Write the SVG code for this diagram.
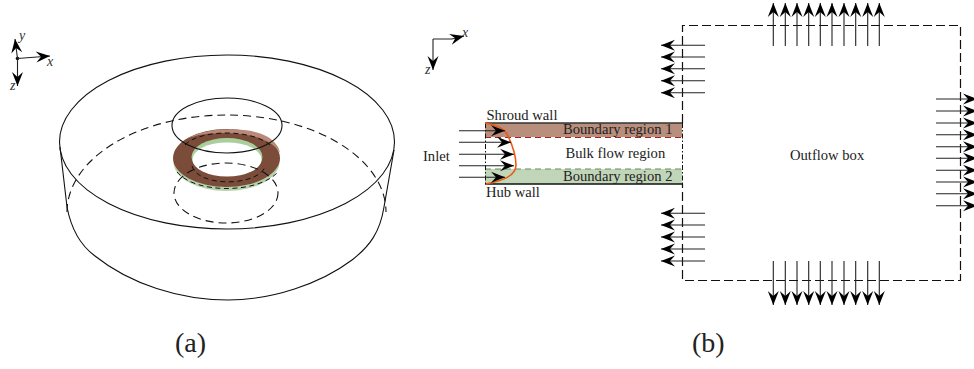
<svg xmlns="http://www.w3.org/2000/svg" width="974" height="369" viewBox="0 0 974 369">
<style>
text{font-family:"Liberation Serif","Times New Roman",serif;fill:#222;font-size:14.6px}
text.ax{font-style:italic;font-size:14px;fill:#333}
text.cap{font-size:28px}
.s{fill:none;stroke:#111;stroke-width:1.100}
.d{fill:none;stroke:#111;stroke-width:1.100;stroke-dasharray:8 5}
.b{fill:none;stroke:#111;stroke-width:1.200;stroke-dasharray:9 4}
.r{fill:none;stroke:#111;stroke-width:1;stroke-dasharray:5 3.500}
.a{fill:none;stroke:#222;stroke-width:1.100;marker-end:url(#h)}
</style>
<defs>
<marker id="h" markerUnits="userSpaceOnUse" markerWidth="16" markerHeight="12" refX="14" refY="5.500" orient="auto" overflow="visible"><path d="M14,5.500 L0,0 L5,5.500 L0,11z" fill="#000"/></marker>
</defs>
<g id="cylinder">
<ellipse class="s" cx="227" cy="142" rx="167.500" ry="87"/>
<path class="s" d="M60,147 L67,207 C71,228 80,245 95,256 C130,284 180,300 228,300 C272,300 320,284 352,260 C370,246 380,232 384,207 L394,150"/>
<path class="d" d="M67,212 A159.500,97 0 0 1 386,212"/>
</g>
<g id="ring">
<ellipse cx="226.500" cy="162" rx="53" ry="29" fill="#b5d2ab"/>
<ellipse cx="226.500" cy="158" rx="53.500" ry="29" fill="#7a4c39"/>
<path d="M187,139 C205,127 250,126 268,137 C274,141 279,146 280,153 C272,138 245,133 226,133 C208,133 195,135 187,139z" fill="#b98a78"/>
<ellipse cx="227" cy="157" rx="35.500" ry="19" fill="#a9d09c"/>
<ellipse cx="227" cy="159.500" rx="34.500" ry="17" fill="#fff"/>
<path class="r" d="M185,145 C200,129 252,129 270,145"/>
<path class="r" d="M192,166 C198,187 256,187 265,167"/>
<path class="r" d="M177,172 C195,194 258,194 278,172"/>
</g>
<g id="hub-circles">
<ellipse class="s" cx="227" cy="125.500" rx="55" ry="27.500"/>
<ellipse class="d" cx="226" cy="193" rx="52" ry="30"/>
</g>
<g id="axes-a">
<text class="ax" x="19" y="40">y</text><text class="ax" x="47" y="66">x</text><text class="ax" x="10" y="90">z</text>
<circle cx="17.500" cy="58.500" r="1.800" fill="#111"/>
</g>
<g id="axes-b">
<text class="ax" x="462" y="37">x</text><text class="ax" x="425" y="74">z</text>
</g>
<g id="channel">
<rect x="485" y="123" width="197" height="14" fill="#b88e7d"/>
<rect x="485" y="169" width="197" height="15" fill="#c1d5b9"/>
<path d="M485,123H682" stroke="#333" stroke-width="1.500"/>
<path d="M485,184H682" stroke="#111" stroke-width="1.500"/>
<path d="M485,137.500H682" stroke="#a22" stroke-width="1.100" stroke-dasharray="6 4"/>
<path d="M485,169H682" stroke="#6a8a60" stroke-width="1.100" stroke-dasharray="6 4"/>
<path d="M485.500,123V184" stroke="#111" stroke-dasharray="5 2 1.500 2"/>
<path d="M682.500,123V184" stroke="#111" stroke-dasharray="5 2 1.500 2"/>
<path d="M485,123 C497,125 504,129 507,134 C512,144 516,155 516,165 C516,177 500,181 486,184" fill="none" stroke="#ee5a10" stroke-width="1.600"/>
<text x="486.500" y="120">Shroud wall</text>
<text x="563" y="134">Boundary region 1</text>
<text x="565.500" y="158">Bulk flow region</text>
<text x="563" y="181">Boundary region 2</text>
<text x="486" y="197">Hub wall</text>
<text x="423" y="161">Inlet</text>
</g>
<g id="outflow-box">
<path class="b" d="M682.500,123V25.500H960.500V280.500H682.500V184"/>
<text x="790" y="160">Outflow box</text>
</g>
<g id="connectors">
<path class="a" d="M17.500,58.500L15,39"/><path class="a" d="M17.500,58.500L50,56"/><path class="a" d="M17.500,58.500V86"/>
<path class="a" d="M433,39H452L464,36"/><path class="a" d="M433,39V70"/>
<path class="a" d="M459,130.700H505"/><path class="a" d="M459,142.300H511"/><path class="a" d="M459,154.300H514"/><path class="a" d="M459,165.700H514"/><path class="a" d="M459,177.300H505"/>
<path class="a" d="M705,45.300H661"/><path class="a" d="M705,57H661"/><path class="a" d="M705,68.700H661"/><path class="a" d="M705,80.700H661"/><path class="a" d="M705,92.700H661"/>
<path class="a" d="M705,213.300H661"/><path class="a" d="M705,225H661"/><path class="a" d="M705,237H661"/><path class="a" d="M705,249H661"/><path class="a" d="M705,261H661"/>
<path class="a" d="M773.300,46V3"/><path class="a" d="M785.300,46V3"/><path class="a" d="M797,46V3"/><path class="a" d="M808.700,46V3"/><path class="a" d="M820.300,46V3"/><path class="a" d="M832,46V3"/><path class="a" d="M844,46V3"/><path class="a" d="M855.700,46V3"/><path class="a" d="M867.700,46V3"/><path class="a" d="M879.300,46V3"/>
<path class="a" d="M773.300,261V305"/><path class="a" d="M785.300,261V305"/><path class="a" d="M797,261V305"/><path class="a" d="M808.700,261V305"/><path class="a" d="M820.300,261V305"/><path class="a" d="M832,261V305"/><path class="a" d="M844,261V305"/><path class="a" d="M855.700,261V305"/><path class="a" d="M867.700,261V305"/><path class="a" d="M879.300,261V305"/>
<path class="a" d="M936,99H977"/><path class="a" d="M936,111H977"/><path class="a" d="M936,123H977"/><path class="a" d="M936,134.700H977"/><path class="a" d="M936,146.700H977"/><path class="a" d="M936,158.300H977"/><path class="a" d="M936,170.300H977"/><path class="a" d="M936,182H977"/><path class="a" d="M936,193.700H977"/><path class="a" d="M936,205.700H977"/>
</g>
<text class="cap" x="175" y="352">(a)</text>
<text class="cap" x="692" y="352">(b)</text>
</svg>
